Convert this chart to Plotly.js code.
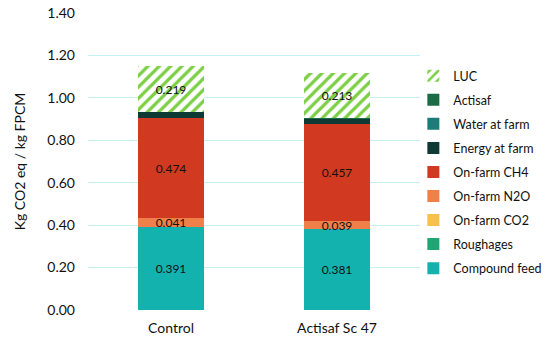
<!DOCTYPE html>
<html>
<head>
<meta charset="utf-8">
<script src="https://cdn.plot.ly/plotly-3.0.1.min.js"></script>
<style>html,body{margin:0;padding:0;background:#fff;overflow:hidden;width:550px;height:343px;}#chart{width:566px;height:343px;}</style>
</head>
<body>
<div id="chart"></div>
<script>
const categories = ['Control', 'Actisaf Sc 47'];
const compoundFeed = [0.391, 0.381];
const roughages = [0.0, 0.0];
const onFarmCO2 = [0.0, 0.0];
const onFarmN2O = [0.041, 0.039];
const onFarmCH4 = [0.474, 0.457];
const energyAtFarm = [0.025, 0.022];
const waterAtFarm = [0.001, 0.001];
const actisaf = [0.0, 0.003];
const luc = [0.219, 0.213];
const yTickVals = [0, 0.2, 0.4, 0.6, 0.8, 1.0, 1.2, 1.4];

const FONT = 'Lato, "DejaVu Sans", sans-serif';
function lbl(arr, show) { return arr.map(v => show ? v.toFixed(3) : ''); }

const series = [
  {name: 'Compound feed', y: compoundFeed, color: '#13b2ae', show: true},
  {name: 'Roughages', y: roughages, color: '#1fa673', show: false},
  {name: 'On-farm CO2', y: onFarmCO2, color: '#f7c14c', show: false},
  {name: 'On-farm N2O', y: onFarmN2O, color: '#ef8049', show: true},
  {name: 'On-farm CH4', y: onFarmCH4, color: '#d13a20', show: true},
  {name: 'Energy at farm', y: energyAtFarm, color: '#0e3a35', show: false},
  {name: 'Water at farm', y: waterAtFarm, color: '#1d7c78', show: false},
  {name: 'Actisaf', y: actisaf, color: '#1b6b45', show: false},
];

const traces = series.map((s, i) => ({
  type: 'bar', name: s.name, x: categories, y: s.y,
  legendgroup: 'g' + i, legendrank: 100 - i,
  marker: {color: s.color, line: {width: 0}},
  text: lbl(s.y, s.show), textposition: 'inside', insidetextanchor: 'middle',
  constraintext: 'none',
  textfont: {family: FONT, size: 12, color: '#111'},
  hoverinfo: 'x+y+name'
}));
traces.push({
  type: 'bar', name: 'LUC', x: categories, y: luc,
  legendgroup: 'g8', legendrank: 90,
  marker: {color: '#ffffff', line: {width: 0},
    pattern: {shape: '/', fgcolor: '#7ccf45', bgcolor: '#ffffff', size: 8, solidity: 0.4}},
  text: lbl(luc, true), textposition: 'inside', insidetextanchor: 'middle',
  constraintext: 'none',
  textfont: {family: FONT, size: 12, color: '#111'}
});

const layout = {
  width: 566, height: 343,
  margin: {l: 88, r: 146, t: 13, b: 33},
  paper_bgcolor: '#fff', plot_bgcolor: '#fff',
  barmode: 'stack', bargap: 0.6,
  font: {family: FONT, size: 12, color: '#222'},
  showlegend: true,
  legend: {x: 0.98, xanchor: 'left', y: 0.838, yanchor: 'top',
    bgcolor: 'rgba(0,0,0,0)',
    traceorder: 'grouped', tracegroupgap: 4.8,
    font: {family: FONT, size: 12.5, color: '#111'}, itemwidth: 30},
  xaxis: {type: 'category', range: [-0.5, 1.5], showgrid: false, zeroline: false,
    showline: false, ticks: '', ticklabelstandoff: 8,
    tickfont: {family: FONT, size: 14, color: '#111'}},
  yaxis: {range: [0, 1.4], tickvals: yTickVals, tickformat: '.2f',
    showgrid: true, gridcolor: '#c6f1f1', gridwidth: 1, zeroline: false, showline: false,
    ticks: '', ticklen: 0, ticklabelstandoff: 12,
    tickfont: {family: FONT, size: 14, color: '#111'},
    title: {text: 'Kg CO2 eq / kg FPCM', font: {family: FONT, size: 14, color: '#111'}, standoff: 18}}
};

Plotly.newPlot('chart', traces, layout, {displayModeBar: false, staticPlot: true});
</script>
</body>
</html>
